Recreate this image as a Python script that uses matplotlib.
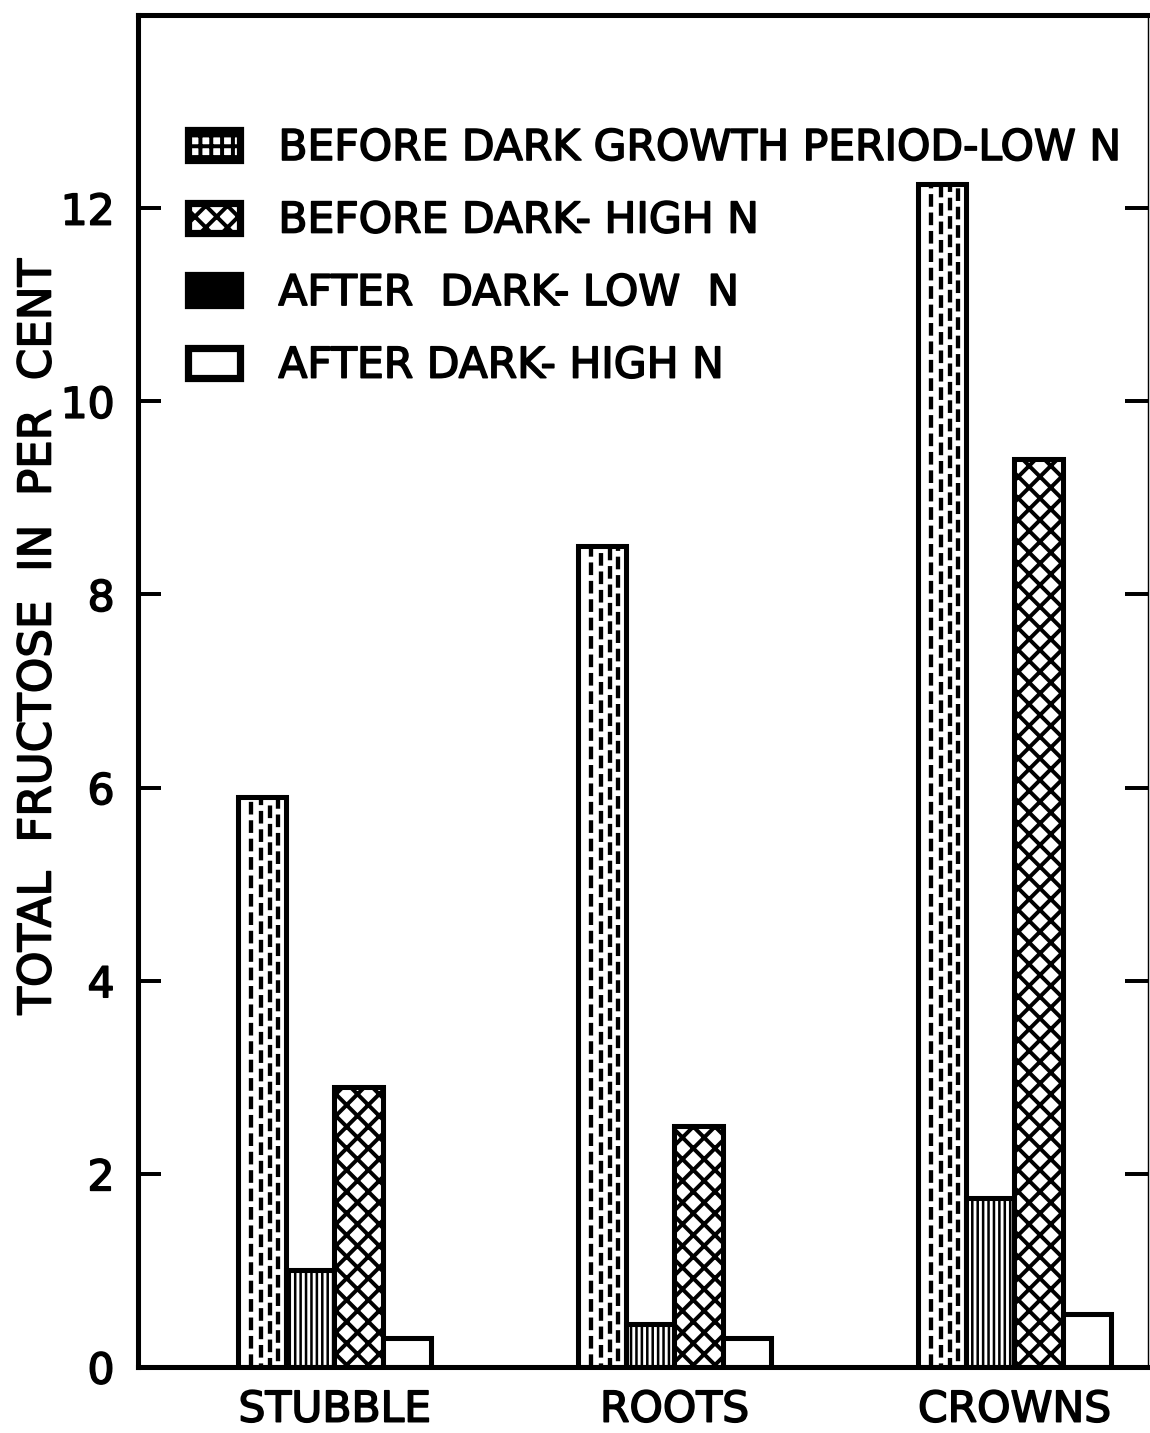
import numpy as np
import matplotlib.pyplot as plt
import matplotlib.patheffects as pe
from matplotlib.patches import Patch

# данні
parts = ["STUBBLE", "ROOTS", "CROWNS"]
series = ["BEFORE DARK GROWTH PERIOD-LOW N", "BEFORE DARK- HIGH N",
          "AFTER  DARK- LOW  N", "AFTER DARK- HIGH N"]
before_low = [5.9, 8.5, 12.25]
after_low = [1.0, 0.45, 1.75]
before_high = [2.9, 2.5, 9.4]
after_high = [0.3, 0.3, 0.55]
yticks = [0, 2, 4, 6, 8, 10, 12]

DPI = 130
FS = 23.5
plt.rcParams["font.family"] = ["DejaVu Sans"]
plt.rcParams["hatch.linewidth"] = 2.2
plt.rcParams["lines.scale_dashes"] = False
thick = [pe.withStroke(linewidth=0.9, foreground="black")]

fig = plt.figure(figsize=(1150 / DPI, 1433 / DPI), dpi=DPI)
ax = fig.add_axes([138 / 1150, 1 - 1367 / 1433, 1010 / 1150, 1352 / 1433])

x = np.arange(len(parts))
w = 0.142
offs = [-1.5 * w, -0.5 * w, 0.5 * w, 1.5 * w]
lw = 2.8

b1 = ax.bar(x + offs[0], before_low, w, facecolor="white", edgecolor="black", lw=lw)
b2 = ax.bar(x + offs[1], after_low, w, facecolor="white", edgecolor="black", lw=lw,
            hatch="||||")
b3 = ax.bar(x + offs[2], before_high, w, facecolor="white", edgecolor="black", lw=lw,
            hatch="xx")
b4 = ax.bar(x + offs[3], after_high, w, facecolor="white", edgecolor="black", lw=lw)

for r in b2:
    if hasattr(r, "set_hatch_linewidth"):
        r.set_hatch_linewidth(1.4)

# пунктирні лінії всередині першого ряду
fracs = [0.27, 0.47, 0.66, 0.83]
phase = [0, 5, 2, 7]
for r in b1:
    for f, p in zip(fracs, phase):
        xx = r.get_x() + f * r.get_width()
        ln, = ax.plot([xx, xx], [0, r.get_height()], color="black", lw=2.4,
                      linestyle=(p, (7, 3.2)), dash_capstyle="butt")
        ln.set_clip_path(r)

ax.set_xlim(-0.578, 2.393)
ax.set_ylim(0, 14)
ax.set_yticks(yticks)
ax.set_yticklabels([str(v) for v in yticks], fontsize=FS)
ax.set_xticks(x)
ax.set_xticklabels(parts, fontsize=FS)
ax.tick_params(axis="x", length=0, pad=12)
ax.tick_params(axis="y", direction="in", length=13, width=2.2, pad=13,
               right=True, labelright=False)
for t in ax.get_xticklabels() + ax.get_yticklabels():
    t.set_path_effects(thick)

for s in ["left", "bottom", "top"]:
    ax.spines[s].set_linewidth(2.8)
ax.spines["right"].set_linewidth(0.8)

fig.text(38 / 1150, 1 - 637 / 1433, "TOTAL  FRUCTOSE  IN  PER  CENT", rotation=90,
         ha="center", va="center", fontsize=25, path_effects=thick)

handles = [
    Patch(facecolor="white", edgecolor="black", hatch="++", lw=4),
    Patch(facecolor="white", edgecolor="black", hatch="xx", lw=4),
    Patch(facecolor="white", edgecolor="black", hatch="||||||", lw=4),
    Patch(facecolor="white", edgecolor="black", lw=4),
]
leg = ax.legend(handles, series, loc="upper left",
                bbox_to_anchor=(188 / 1150, 1 - 127 / 1433),
                bbox_transform=fig.transFigure, frameon=False, fontsize=FS,
                handlelength=1.23, handleheight=0.7, handletextpad=0.9,
                labelspacing=0.72, borderpad=0, borderaxespad=0)
for t in leg.get_texts():
    t.set_path_effects(thick)

fig.savefig("out.png", dpi=DPI)
